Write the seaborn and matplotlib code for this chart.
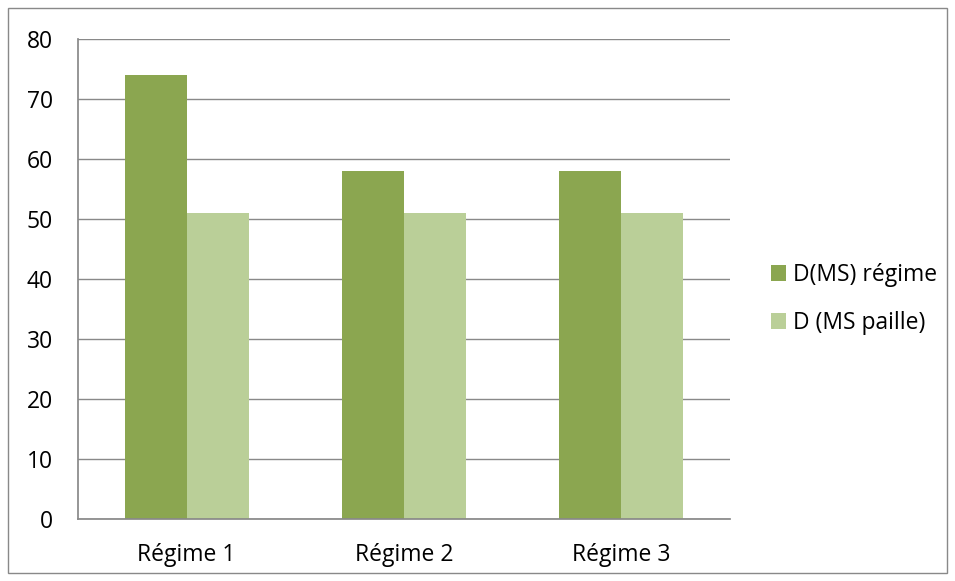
import matplotlib
matplotlib.use("Agg")
import matplotlib.pyplot as plt
import seaborn as sns
import pandas as pd
from matplotlib.patches import Rectangle

categories = ["Régime 1", "Régime 2", "Régime 3"]
series_names = ["D(MS) régime", "D (MS paille)"]
d_regime = [74, 58, 58]
d_paille = [51, 51, 51]
yticks = [0, 10, 20, 30, 40, 50, 60, 70, 80]

df = pd.DataFrame({
    "cat": categories * 2,
    "serie": [series_names[0]] * 3 + [series_names[1]] * 3,
    "val": d_regime + d_paille,
})

sns.set_theme(style="white")
plt.rcParams["font.family"] = ["Open Sans", "DejaVu Sans"]
plt.rcParams["text.color"] = "black"
plt.rcParams["xtick.color"] = "black"
plt.rcParams["ytick.color"] = "black"

FS = 16.5
W, H = 955, 581
fig = plt.figure(figsize=(W / 100, H / 100), dpi=100)
ax = fig.add_axes([78 / W, 1 - 519 / H, (730 - 78) / W, (519 - 39) / H])

palette = {series_names[0]: "#8BA650", series_names[1]: "#BACF98"}
sns.barplot(data=df, x="cat", y="val", hue="serie", palette=palette,
            width=0.57, saturation=1, ax=ax, legend=True)

ax.set_ylim(0, 80)
ax.set_xlim(-0.5, 2.5)
ax.set_yticks(yticks)
ax.set_yticklabels([str(t) for t in yticks], fontsize=FS)
ax.tick_params(axis="y", length=6, width=1, color="#898989", pad=12, labelcolor="black")
ax.tick_params(axis="x", length=0, pad=17, labelsize=FS, labelcolor="black")
ax.yaxis.grid(True, color="#898989", linewidth=1)
ax.set_axisbelow(True)
for b in ax.patches:
    b.set_edgecolor("none")
for s in ["top", "right"]:
    ax.spines[s].set_visible(False)
ax.spines["left"].set_color("#898989")
ax.spines["bottom"].set_color("#898989")
ax.set_xlabel("")
ax.set_ylabel("")
ax.set_xticks([0, 1, 2])
ax.set_xticks([-0.5, 0.5, 1.5, 2.5], minor=True)
ax.tick_params(axis="x", which="minor", length=6, width=1, color="#898989", direction="out")

leg = ax.legend(loc="center left", bbox_to_anchor=(1.031, 0.458), frameon=False,
                fontsize=FS, handlelength=0.65, handleheight=0.65, handletextpad=0.3,
                labelspacing=1.05)

fig.patches.append(Rectangle((8 / W, 8 / H), (947 - 8) / W, (573 - 8) / H,
                             transform=fig.transFigure, fill=False,
                             edgecolor="#898989", linewidth=1))

fig.savefig("out.png", dpi=100)
